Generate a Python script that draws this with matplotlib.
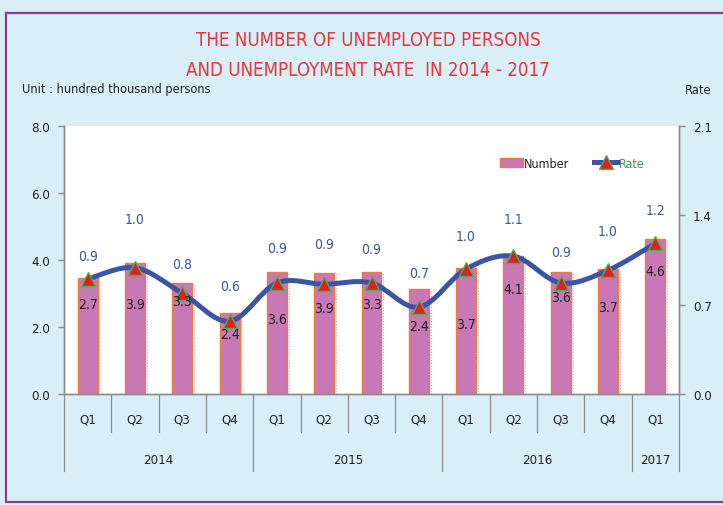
import matplotlib
matplotlib.use("Agg")
import matplotlib.pyplot as plt
from matplotlib.path import Path
from matplotlib.patches import PathPatch, Rectangle
from matplotlib.lines import Line2D
import matplotlib.transforms as mtransforms

plt.rcParams['font.family'] = ['DejaVu Sans']
plt.rcParams['font.stretch'] = 'condensed'

# ---------------- data ----------------
quarters = ["Q1", "Q2", "Q3", "Q4", "Q1", "Q2", "Q3", "Q4", "Q1", "Q2", "Q3", "Q4", "Q1"]
years = ["2014", "2015", "2016", "2017"]
year_counts = [4, 4, 4, 1]
number = [3.45, 3.91, 3.30, 2.42, 3.63, 3.62, 3.64, 3.13, 3.75, 4.13, 3.63, 3.73, 4.63]
number_labels = ["2.7", "3.9", "3.3", "2.4", "3.6", "3.9", "3.3", "2.4", "3.7", "4.1", "3.6", "3.7", "4.6"]
rate = [0.90, 0.99, 0.79, 0.57, 0.87, 0.86, 0.87, 0.68, 0.98, 1.08, 0.87, 0.97, 1.18]
rate_labels = ["0.9", "1.0", "0.8", "0.6", "0.9", "0.9", "0.9", "0.7", "1.0", "1.1", "0.9", "1.0", "1.2"]

# layout (label placement)
number_label_y = [2.69, 2.69, 2.78, 1.79, 2.24, 2.57, 2.69, 2.03, 2.09, 3.13, 2.90, 2.60, 3.67]
rate_label_off_px = [23, 49, 29, 35, 35, 40, 34, 34, 33, 37, 31, 39, 33]

BG = "#d9eff8"
BAR = "#c878b4"
BAR_EDGE = "#f07a3a"
LINE = "#3b54a6"
GRID = "#8c8c8c"
TXT = "#222222"

W, H = 723, 506
fig = plt.figure(figsize=(W / 100, H / 100), dpi=100, facecolor=BG)

x0, x1, yb, yt = 64, 679, 395, 127
ax = fig.add_axes([x0 / W, 1 - yb / H, (x1 - x0) / W, (yb - yt) / H])
ax.set_facecolor("white")
ax2 = ax.twinx()

n = len(quarters)
xs = list(range(n))

# bars
bw = 0.42
ax.bar(xs, number, width=bw, color=BAR, edgecolor=BAR_EDGE, linewidth=1.0, zorder=2)
ax.vlines([x + bw / 2 + 0.04 for x in xs], 0, number, colors="#b8b8b8", linestyles=(0, (1, 1.5)),
          linewidth=0.8, zorder=1)
ax.set_xlim(-0.5, n - 0.5)
ax.set_ylim(0, 8)
ax.set_yticks([0, 2, 4, 6, 8])
ax.set_yticklabels(["0.0", "2.0", "4.0", "6.0", "8.0"])

# smooth rate line (Catmull-Rom -> cubic Bezier)
ax2.set_ylim(0, 2.1)
pts = list(zip(xs, rate))
verts = [pts[0]]
codes = [Path.MOVETO]
for i in range(n - 1):
    p0 = pts[i - 1] if i > 0 else pts[i]
    p1 = pts[i]
    p2 = pts[i + 1]
    p3 = pts[i + 2] if i + 2 < n else pts[i + 1]
    c1 = (p1[0] + (p2[0] - p0[0]) / 6, p1[1] + (p2[1] - p0[1]) / 6)
    c2 = (p2[0] - (p3[0] - p1[0]) / 6, p2[1] - (p3[1] - p1[1]) / 6)
    verts += [c1, c2, p2]
    codes += [Path.CURVE4] * 3
ax2.add_patch(PathPatch(Path(verts, codes), facecolor="none", edgecolor=LINE,
                        linewidth=3.6, capstyle="round", joinstyle="round", zorder=4))
ax2.plot(xs, rate, linestyle="none", marker="^", markersize=10, markerfacecolor="#e0201e",
         markeredgecolor="#4caf50", markeredgewidth=1.0, zorder=5)
ax2.set_yticks([0, 0.7, 1.4, 2.1])
ax2.set_yticklabels(["0.0", "0.7", "1.4", "2.1"])

for x, r, off, t in zip(xs, rate, rate_label_off_px, rate_labels):
    ax2.annotate(t, (x, r), xytext=(0, off * 0.72), textcoords="offset points",
                 ha="center", va="center", fontsize=10, color=LINE, zorder=6)
for x, ly, t in zip(xs, number_label_y, number_labels):
    ax2.text(x, ly * 2.1 / 8, t, ha="center", va="center", fontsize=10, color=TXT, zorder=6)

# axes styling
for a in (ax, ax2):
    a.spines["top"].set_visible(False)
    for s in ("left", "right", "bottom"):
        a.spines[s].set_color(GRID)
        a.spines[s].set_linewidth(1.0)
    a.tick_params(axis="y", length=4, width=1.0, color=GRID, labelsize=9.5, labelcolor=TXT, pad=6)
ax.tick_params(axis="x", length=0, labelsize=9.5, labelcolor=TXT, pad=13)
ax.set_xticks(xs)
ax.set_xticklabels(quarters)

# category separators
tr = mtransforms.blended_transform_factory(ax.transData, ax.transAxes)
ph = yb - yt
year_bounds = [-0.5]
for c in year_counts:
    year_bounds.append(year_bounds[-1] + c)
for b in [i - 0.5 for i in range(n + 1)]:
    depth = 77 if b in year_bounds else 38
    ax.plot([b, b], [0, -depth / ph], color=GRID, lw=0.9, transform=tr, clip_on=False)
for i, yname in enumerate(years):
    cx = (year_bounds[i] + year_bounds[i + 1]) / 2
    ax.text(cx, -66 / ph, yname, transform=tr, ha="center", va="center", fontsize=9.5, color=TXT)

# titles and units
fig.text(368 / W, 1 - 41 / H, "THE NUMBER OF UNEMPLOYED PERSONS", ha="center", va="center",
         fontsize=13.4, color="#e8343a")
fig.text(368 / W, 1 - 71 / H, "AND UNEMPLOYMENT RATE  IN 2014 - 2017", ha="center", va="center",
         fontsize=13.4, color="#e8343a")
fig.text(22 / W, 1 - 90 / H, "Unit : hundred thousand persons", ha="left", va="center",
         fontsize=9.2, color=TXT)
fig.text(711 / W, 1 - 90 / H, "Rate", ha="right", va="center", fontsize=9.2, color=TXT)

# legend (drawn manually)
ft = fig.transFigure
fig.add_artist(Rectangle((500 / W, 1 - 168 / H), 23 / W, 9 / H, facecolor=BAR,
                         edgecolor=BAR_EDGE, lw=1.0, transform=ft))
fig.text(524 / W, 1 - 164 / H, "Number", ha="left", va="center", fontsize=9, color=TXT)
fig.add_artist(Line2D([594 / W, 618 / W], [1 - 163 / H, 1 - 163 / H], color=LINE, lw=3.6,
                      transform=ft))
fig.add_artist(Line2D([606 / W], [1 - 163 / H], marker="^", markersize=10, linestyle="none",
                      markerfacecolor="#e0201e", markeredgecolor="#4caf50", transform=ft))
fig.text(619 / W, 1 - 164 / H, "Rate", ha="left", va="center", fontsize=9, color="#3a9a5a")

# purple border
fig.add_artist(Line2D([6 / W, 6 / W, 1.02], [1 - 14 / H, 1 - 503 / H, 1 - 503 / H],
                      color="#8a3a90", lw=1.6, transform=ft))
fig.add_artist(Line2D([6 / W, 1.02], [1 - 14 / H, 1 - 14 / H],
                      color="#8a3a90", lw=1.6, transform=ft))

fig.savefig("out.png", dpi=100, facecolor=BG)
